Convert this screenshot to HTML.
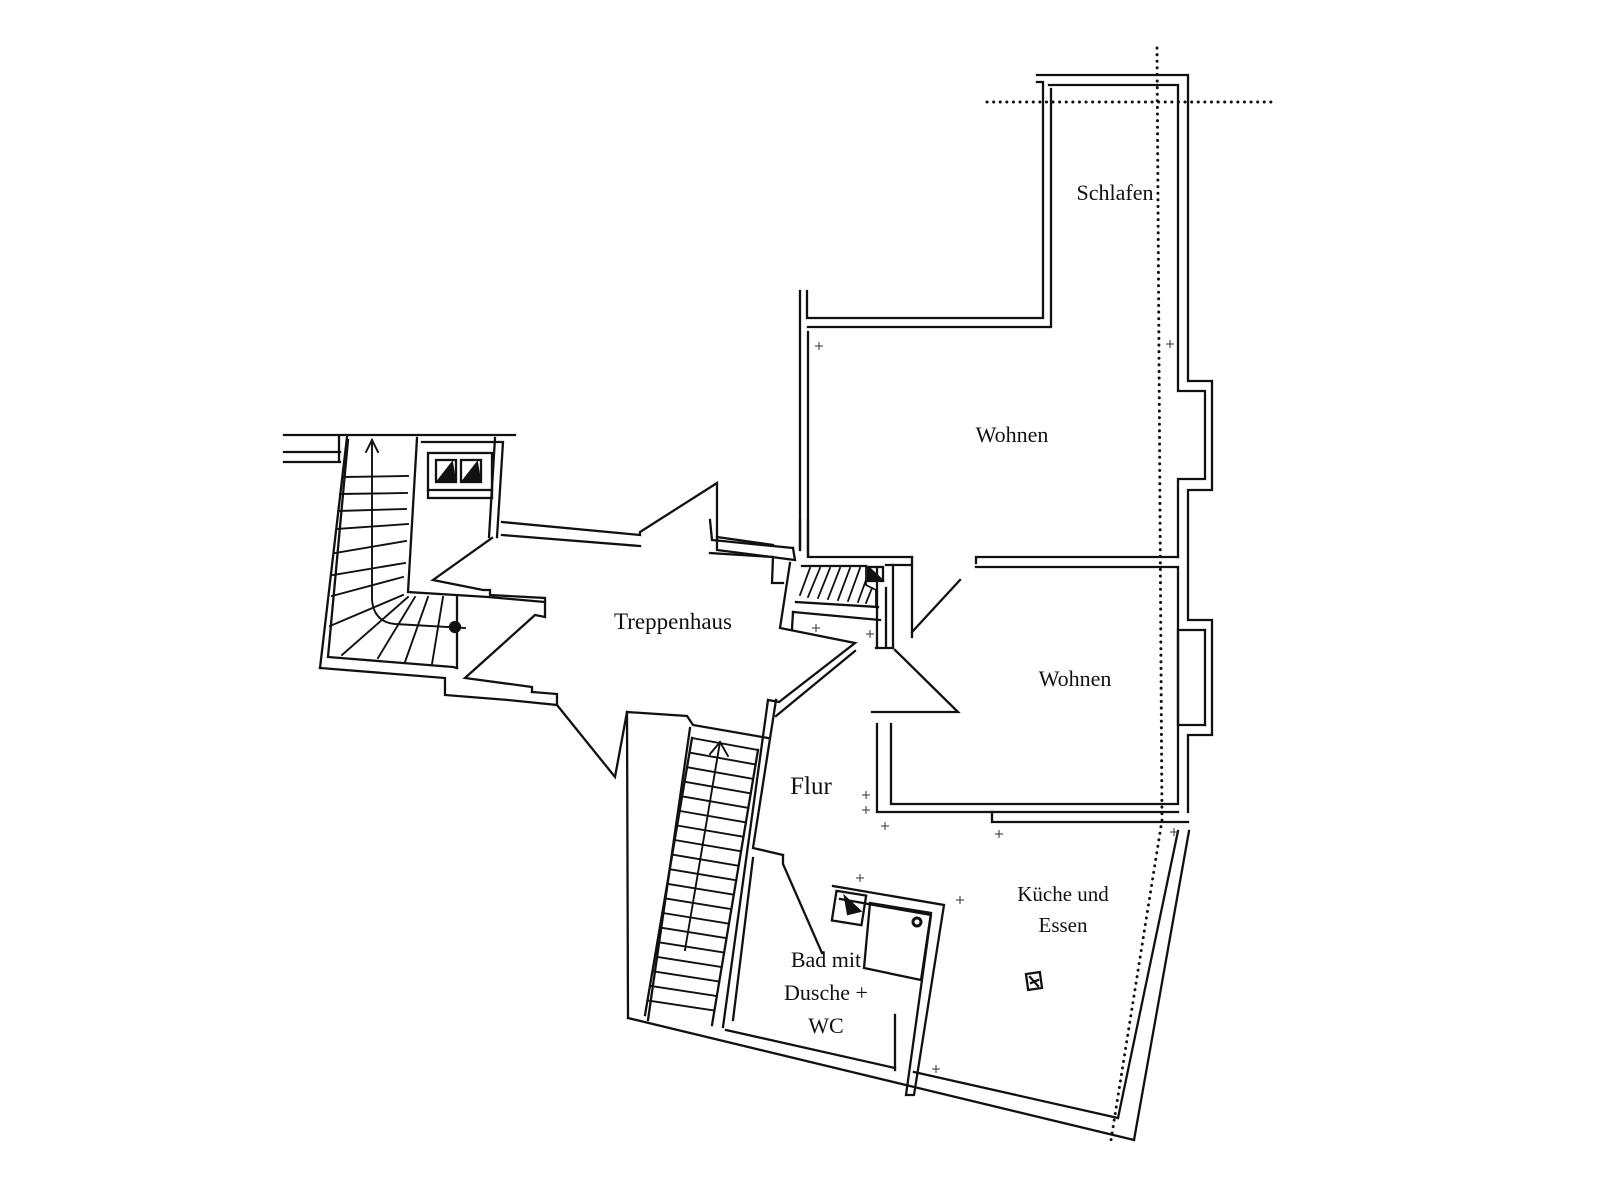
<!DOCTYPE html>
<html><head><meta charset="utf-8"><style>
html,body{margin:0;padding:0;background:#fff}
svg{display:block}
text{font-family:"Liberation Serif",serif;fill:#111}
</style></head><body>
<svg width="1597" height="1197" viewBox="0 0 1597 1197" xmlns="http://www.w3.org/2000/svg">
<g fill="none" stroke="#111" stroke-width="2.3" stroke-linejoin="miter" stroke-linecap="square">
<polyline points="1037,75 1188,75 1188,381 1212,381 1212,490 1188,490 1188,620 1212,620 1212,735 1188,735 1188,812"/>
<polyline points="1049,85 1178,85 1178,391 1205,391 1205,479 1178,479 1178,557"/>
<polyline points="1037,82 1043,82 1043,318 807,318 807,291"/>
<polyline points="1051,89 1051,327 808,327"/>
<polyline points="800,291 800,550"/>
<polyline points="808,332 808,557 912,557"/>
<line x1="912" y1="557" x2="912" y2="637"/>
<line x1="960" y1="580" x2="912" y2="632"/>
<polyline points="976,563 976,557 1178,557"/>
<polyline points="976,567 1178,567 1178,804 891,804 891,724"/>
<polyline points="1205,630 1178,630 1178,725 1205,725"/>
<line x1="1205" y1="630" x2="1205" y2="725"/>
<polyline points="877,724 877,812 1178,812"/>
<polyline points="992,812 992,822 1188,822"/>
<polyline points="895,650 958,712 872,712"/>
<polyline points="793,548 712,540 710,520"/>
<polyline points="710,553 773,557 772,583 783,583"/>
<polyline points="790,563 780,628 855,643 779,702 768,700"/>
<polyline points="800,520 800,548"/>
<polyline points="808,520 808,556"/>
<line x1="793" y1="612" x2="880" y2="620"/>
<line x1="793" y1="612" x2="792" y2="629"/>
<polyline points="796,602 878,607"/>
<polyline points="802,566 866,566"/>
<line x1="877" y1="567" x2="877" y2="648"/>
<line x1="886" y1="588" x2="886" y2="647"/>
<line x1="893" y1="565" x2="893" y2="648"/>
<line x1="876" y1="648" x2="893" y2="648"/>
<line x1="886" y1="565" x2="912" y2="565"/>
<g stroke-width="1.8">
<line x1="800" y1="595" x2="810" y2="568"/><line x1="808" y1="597" x2="820" y2="568"/>
<line x1="818" y1="598" x2="830" y2="568"/><line x1="828" y1="599" x2="840" y2="568"/>
<line x1="838" y1="600" x2="850" y2="568"/><line x1="848" y1="601" x2="860" y2="568"/>
<line x1="858" y1="602" x2="866" y2="580"/><line x1="866" y1="603" x2="872" y2="588"/>
<polyline points="866,566 866,585 876,590 876,606"/>
</g>
<rect x="868" y="567" width="15" height="14"/>
<polygon points="869,568 882,580 869,580" fill="#111"/>
<polyline points="502,522 640,535 640,532 717,483 717,550 795,560 793,548"/>
<polyline points="502,535 640,546"/>
<polyline points="717,537 773,545"/>
<polyline points="492,538 433,580 483,590 490,590 490,595 545,598 545,617 535,615 465,678 532,687 532,692"/>
<polyline points="320,668 445,678 445,695 508,700 557,705 615,777 627,712"/>
<polyline points="532,692 557,694 557,705"/>
<polyline points="776,716 855,651"/>
<polyline points="284,435 515,435"/>
<line x1="284" y1="452" x2="340" y2="452"/>
<line x1="284" y1="462" x2="340" y2="462"/>
<line x1="347" y1="437" x2="320" y2="668"/>
<line x1="339" y1="437" x2="339" y2="460"/>
<polyline points="348,440 328,657 453,667 457,668"/>
<polyline points="417,438 408,592 488,597 545,602"/>
<line x1="457" y1="597" x2="457" y2="668"/>
<polyline points="422,442 503,442 497,537"/>
<line x1="495" y1="438" x2="489" y2="537"/>
<rect x="428" y="453" width="64" height="45"/>
<line x1="428" y1="490" x2="492" y2="490"/>
<rect x="436" y="460" width="20" height="22"/>
<rect x="461" y="460" width="20" height="22"/>
<polygon points="438,481 452,463 455,481" fill="#111"/>
<polygon points="463,481 477,463 480,481" fill="#111"/>
<g stroke-width="1.9">
<line x1="343" y1="477" x2="408" y2="476"/>
<line x1="340" y1="494" x2="407" y2="493"/>
<line x1="338" y1="511" x2="406" y2="509"/>
<line x1="337" y1="529" x2="408" y2="524"/>
<line x1="335" y1="553" x2="406" y2="541"/>
<line x1="333" y1="575" x2="405" y2="563"/>
<line x1="332" y1="596" x2="403" y2="577"/>
<line x1="330" y1="626" x2="403" y2="595"/>
<line x1="342" y1="655" x2="408" y2="597"/>
<line x1="378" y1="658" x2="415" y2="597"/>
<line x1="405" y1="662" x2="428" y2="597"/>
<line x1="432" y1="664" x2="443" y2="597"/>
<path d="M372,440 L372,600 Q374,622 395,624 L465,628"/>
<polyline points="366,452 372,440 378,452"/>
</g>
<circle cx="455" cy="627" r="5" fill="#111"/>
<polyline points="627,712 687,716 693,725 768,738"/>
<line x1="627" y1="712" x2="628" y2="1018"/>
<line x1="690" y1="728" x2="648" y2="1020"/>
<line x1="692" y1="738" x2="645" y2="1015"/>
<line x1="758" y1="750" x2="712" y2="1025"/>
<line x1="768" y1="700" x2="723" y2="1027"/>
<polyline points="776,700 753,848 783,855"/>
<line x1="753" y1="858" x2="733" y2="1020"/>
<g stroke-width="1.9">
<line x1="692" y1="738" x2="758" y2="750"/><line x1="689.5" y1="752.6" x2="755.6" y2="764.5"/>
<line x1="687.1" y1="767.2" x2="753.2" y2="778.9"/><line x1="684.6" y1="781.7" x2="750.7" y2="793.4"/>
<line x1="682.1" y1="796.3" x2="748.3" y2="807.9"/><line x1="679.6" y1="810.9" x2="745.9" y2="822.4"/>
<line x1="677.2" y1="825.5" x2="743.5" y2="836.8"/><line x1="674.7" y1="840" x2="741.1" y2="851.3"/>
<line x1="672.2" y1="854.6" x2="738.6" y2="865.8"/><line x1="669.7" y1="869.2" x2="736.2" y2="880.3"/>
<line x1="667.3" y1="883.8" x2="733.8" y2="894.7"/><line x1="664.8" y1="898.3" x2="731.4" y2="909.2"/>
<line x1="662.3" y1="912.9" x2="728.9" y2="923.7"/><line x1="659.8" y1="927.5" x2="726.5" y2="938.2"/>
<line x1="657.4" y1="942.1" x2="724.1" y2="952.6"/><line x1="654.9" y1="956.6" x2="721.7" y2="967.1"/>
<line x1="652.4" y1="971.2" x2="719.3" y2="981.6"/><line x1="649.9" y1="985.8" x2="716.8" y2="996.1"/>
<line x1="647.5" y1="1000.4" x2="714.4" y2="1010.5"/>
<line x1="720" y1="742" x2="685" y2="950"/>
<polyline points="710,754 720,742 728,756"/>
</g>
<line x1="628" y1="1018" x2="1134" y2="1140"/>
<line x1="726" y1="1030" x2="895" y2="1068"/>
<line x1="914" y1="1072" x2="1118" y2="1118"/>
<line x1="1189" y1="831" x2="1134" y2="1140"/>
<line x1="1178" y1="831" x2="1118" y2="1118"/>
<polyline points="783,855 783,864 822,953"/>
<polyline points="833,886 944,905 914,1095 906,1095 931,915 840,899"/>
<line x1="895" y1="1015" x2="895" y2="1070"/>
<polygon points="870,903 931,913 921,980 864,968"/>
<circle cx="917" cy="922" r="4" stroke-width="3"/>
<rect x="834" y="893" width="30" height="30" transform="rotate(9 849 908)"/>
<polygon points="845,897 860,911 848,914" fill="#111"/>
<rect x="1027" y="973" width="14" height="16" transform="rotate(-8 1034 981)"/>
<line x1="1030" y1="977" x2="1038" y2="986"/><line x1="1031" y1="983" x2="1038" y2="980"/>
</g>
<g fill="none" stroke="#111" stroke-width="3" stroke-dasharray="0.1 6.5" stroke-linecap="round">
<line x1="987" y1="102" x2="1272" y2="102"/>
<polyline points="1157,48 1162,820 1111,1140"/>
</g>
<g fill="none" stroke="#333" stroke-width="1">
<path d="M815,346h8M819,342v8 M1166,344h8M1170,340v8 M812,628h8M816,624v8 M866,634h8M870,630v8 M862,795h8M866,791v8 M862,810h8M866,806v8 M881,826h8M885,822v8 M995,834h8M999,830v8 M1170,832h8M1174,828v8 M856,878h8M860,874v8 M956,900h8M960,896v8 M932,1069h8M936,1065v8"/>
</g>
<text x="1115" y="200" font-size="22" text-anchor="middle">Schlafen</text>
<text x="1012" y="442" font-size="22" text-anchor="middle">Wohnen</text>
<text x="1075" y="686" font-size="22" text-anchor="middle">Wohnen</text>
<text x="673" y="629" font-size="23" text-anchor="middle">Treppenhaus</text>
<text x="811" y="794" font-size="25" text-anchor="middle">Flur</text>
<text x="1063" y="901" font-size="21" text-anchor="middle">Küche und</text>
<text x="1063" y="932" font-size="21" text-anchor="middle">Essen</text>
<text x="826" y="967" font-size="22" text-anchor="middle">Bad mit</text>
<text x="826" y="1000" font-size="22" text-anchor="middle">Dusche +</text>
<text x="826" y="1033" font-size="22" text-anchor="middle">WC</text>
</svg>
</body></html>
